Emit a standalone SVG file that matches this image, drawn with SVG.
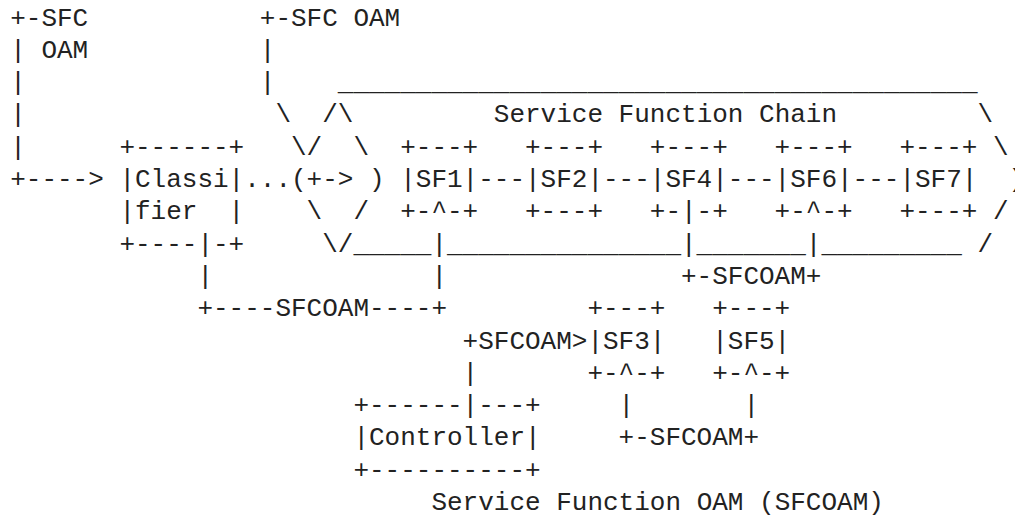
<svg xmlns="http://www.w3.org/2000/svg" width="1015" height="518" viewBox="0 0 1015 518">
<style>
text{font-family:"Liberation Mono","DejaVu Sans Mono",monospace;font-size:26px;fill:#222;white-space:pre}
</style>
<rect width="1015" height="518" fill="#fff"/>
<g id="sfc-boundary">
<text x="337.8" y="90.1">_________________________________________</text>
<text x="275.4" y="122.4">\</text>
<text x="322.2" y="122.4">/\</text>
<text x="493.8" y="122.4">Service Function Chain</text>
<text x="977.4" y="122.4">\</text>
<text x="291" y="154.7">\/</text>
<text x="353.4" y="154.7">\</text>
<text x="993" y="154.7">\</text>
<text x="1008.6" y="187">)</text>
<text x="306.6" y="219.3">\</text>
<text x="353.4" y="219.3">/</text>
<text x="993" y="219.3">/</text>
<text x="322.2" y="251.6">\/_____</text>
<text x="447" y="251.6">_______________</text>
<text x="696.6" y="251.6">_______</text>
<text x="821.4" y="251.6">_________</text>
<text x="977.4" y="251.6">/</text>
</g>
<g id="classifier">
<text x="119.4" y="154.7">+------+</text>
<text x="119.4" y="187">|Classi|</text>
<text x="119.4" y="219.3" xml:space="preserve">|fier  |</text>
<text x="119.4" y="251.6">+----|-+</text>
</g>
<g id="sf1">
<text x="400.2" y="154.7">+---+</text>
<text x="400.2" y="187">|SF1|</text>
<text x="400.2" y="219.3">+-^-+</text>
</g>
<g id="sf2">
<text x="525" y="154.7">+---+</text>
<text x="525" y="187">|SF2|</text>
<text x="525" y="219.3">+---+</text>
</g>
<g id="sf4">
<text x="649.8" y="154.7">+---+</text>
<text x="649.8" y="187">|SF4|</text>
<text x="649.8" y="219.3">+-|-+</text>
</g>
<g id="sf6">
<text x="774.6" y="154.7">+---+</text>
<text x="774.6" y="187">|SF6|</text>
<text x="774.6" y="219.3">+-^-+</text>
</g>
<g id="sf7">
<text x="899.4" y="154.7">+---+</text>
<text x="899.4" y="187">|SF7|</text>
<text x="899.4" y="219.3">+---+</text>
</g>
<g id="sf3">
<text x="587.4" y="316.2">+---+</text>
<text x="587.4" y="348.5">|SF3|</text>
<text x="587.4" y="380.8">+-^-+</text>
</g>
<g id="sf5">
<text x="712.2" y="316.2">+---+</text>
<text x="712.2" y="348.5">|SF5|</text>
<text x="712.2" y="380.8">+-^-+</text>
</g>
<g id="controller">
<text x="353.4" y="413.1">+------|---+</text>
<text x="353.4" y="445.4">|Controller|</text>
<text x="353.4" y="477.7">+----------+</text>
</g>
<g id="connectors">
<text x="10.2" y="25.5">+-SFC</text>
<text x="259.8" y="25.5" xml:space="preserve">+-SFC OAM</text>
<text x="10.2" y="57.8" xml:space="preserve">| OAM</text>
<text x="259.8" y="57.8">|</text>
<text x="10.2" y="90.1">|</text>
<text x="259.8" y="90.1">|</text>
<text x="10.2" y="122.4">|</text>
<text x="10.2" y="154.7">|</text>
<text x="10.2" y="187">+----&gt;</text>
<text x="244.2" y="187" xml:space="preserve">...(+-&gt; )</text>
<text x="478.2" y="187">---</text>
<text x="603" y="187">---</text>
<text x="727.8" y="187">---</text>
<text x="852.6" y="187">---</text>
<text x="431.4" y="251.6">|</text>
<text x="681" y="251.6">|</text>
<text x="805.8" y="251.6">|</text>
<text x="197.4" y="283.9">|</text>
<text x="431.4" y="283.9">|</text>
<text x="681" y="283.9">+-SFCOAM+</text>
<text x="197.4" y="316.2">+----SFCOAM----+</text>
<text x="462.6" y="348.5">+SFCOAM&gt;</text>
<text x="462.6" y="380.8">|</text>
<text x="618.6" y="413.1">|</text>
<text x="743.4" y="413.1">|</text>
<text x="618.6" y="445.4">+-SFCOAM+</text>
</g>
<g id="caption">
<text x="431.4" y="510">Service Function OAM (SFCOAM)</text>
</g>
</svg>
